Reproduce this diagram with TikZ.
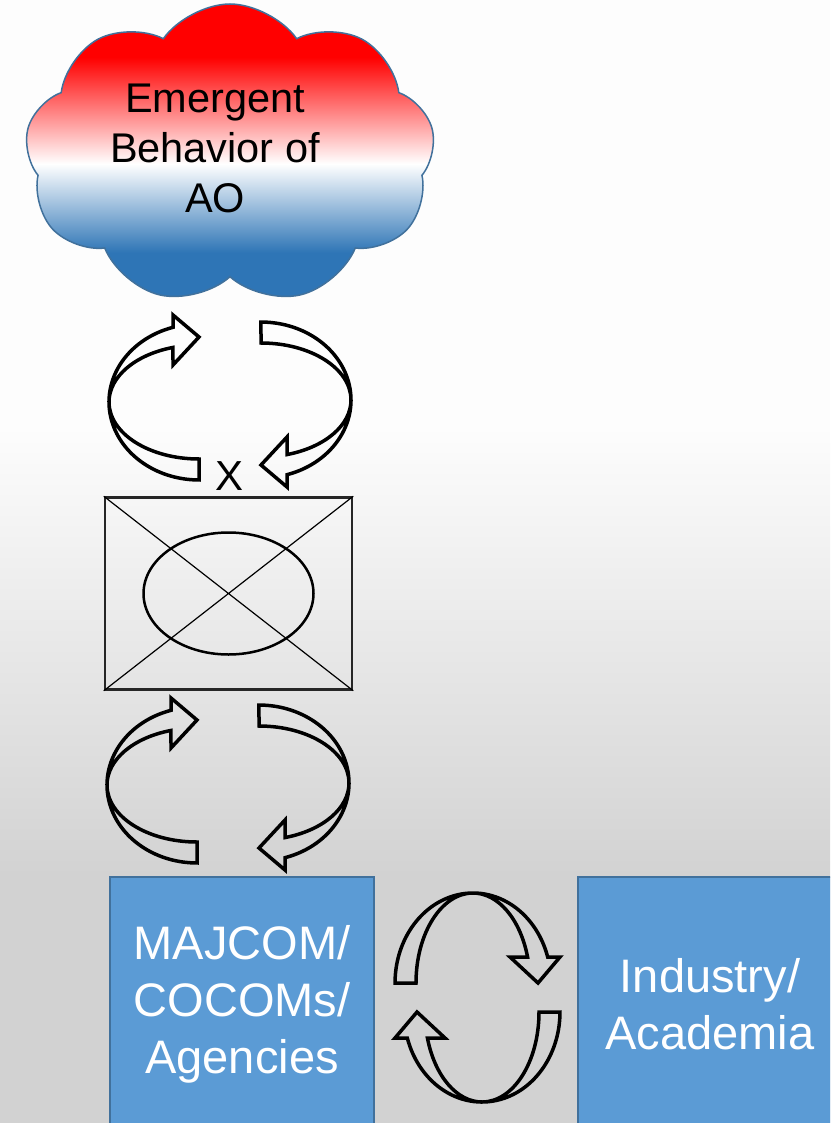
\documentclass[tikz,border=0pt]{standalone}
\usepackage{fontspec}
\setmainfont{Liberation Sans}
\usepackage{tikz}
\usetikzlibrary{shapes,positioning,calc}

\definecolor{aoblue}{HTML}{2E75B6}
\definecolor{aoline}{HTML}{41719C}
\definecolor{boxblue}{HTML}{5B9BD5}
\definecolor{bgtop}{HTML}{FDFDFD}
\definecolor{bgbottom}{HTML}{D2D2D2}
\pgfdeclareverticalshading{aosky}{100bp}{color(0bp)=(aoblue); color(33bp)=(aoblue); color(48bp)=(white); color(66bp)=(red); color(100bp)=(red)}
\pgfdeclareverticalshading{aobg}{100bp}{color(0bp)=(bgbottom); color(36bp)=(bgbottom); color(56bp)=(bgtop); color(100bp)=(bgtop)}

\tikzset{
  cloudbox/.style={cloud, cloud puffs=9, cloud puff arc=110, aspect=1.4, draw=aoline, line width=1.5pt,
    shading=aosky, minimum width=410pt, minimum height=300pt, inner sep=0pt},
  bluebox/.style={draw=aoline, line width=1.5pt, fill=boxblue, text=white, align=center,
    minimum width=264pt, minimum height=254pt, font=\fontsize{47}{57}\selectfont},
  xbox/.style={draw=black!85, line width=2.5pt, minimum width=247pt, minimum height=192pt},
  ribbonline/.style={draw=black, line width=3.5pt, line join=miter},
  ribbon/.pic={
    \draw[ribbonline] (0,57) arc[start angle=90, end angle=253.2, x radius=90, y radius=57]
      -- (-26,-37) -- (0,-65) -- (-26,-87) -- (-26,-74.7)
      arc[start angle=253.2, end angle=90, x radius=90, y radius=78] -- cycle;
  }
}

\begin{document}
\begin{tikzpicture}[x=1pt,y=-1pt]
\path[use as bounding box, clip] (0,0) rectangle (830,1123);
\shade[shading=aobg] (0,0) rectangle (830,1123);

\node[cloudbox] (ao) at (230,154) {};
\node[align=center, font=\fontsize{41.5}{50}\selectfont] (aotext) at (215,148) {Emergent\\Behavior of\\AO};

\node[xbox] (mid) at (228.5,593.5) {};
\draw[line width=1.2pt] (mid.north west) -- (mid.south east) (mid.north east) -- (mid.south west);
\draw[line width=2.5pt] (mid.center) ellipse[x radius=85, y radius=61];
\node[font=\fontsize{42}{50}\selectfont] (xmark) at (230,476) {X};

\node[bluebox] (majcom) at (242,1004) {MAJCOM/\\COCOMs/\\Agencies};
\node[bluebox] (industry) at (710,1004) {Industry/\\Academia};

\pic at (199,402) {ribbon};
\pic[rotate=180] at (261,400) {ribbon};
\pic at (197,785) {ribbon};
\pic[rotate=180] at (259,783) {ribbon};
\pic[rotate=-90] at (473,983) {ribbon};
\pic[rotate=90] at (482,1012) {ribbon};
\end{tikzpicture}
\end{document}
